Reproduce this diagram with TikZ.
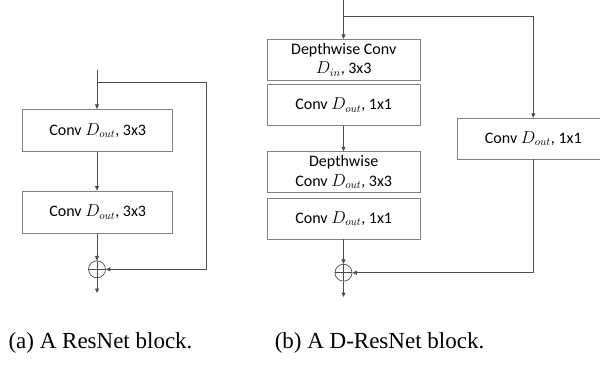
\documentclass[tikz,border=0pt]{standalone}
\usepackage{fontspec}
\setmainfont{Carlito}
\newfontfamily\capfont{Liberation Serif}
\usetikzlibrary{arrows.meta,calc}
\definecolor{boxc}{HTML}{808080}
\definecolor{linec}{HTML}{4D4D4D}
\tikzset{
  blk/.style={draw=boxc, line width=0.8pt, minimum height=40.7pt, inner sep=0pt, align=center, font=\fontsize{16}{19.5}\selectfont},
  blka/.style={blk, minimum width=150pt, minimum height=42.4pt},
  blkb/.style={blk, minimum width=152.7pt},
  conn/.style={draw=linec, line width=0.7pt},
  arr/.style={conn, -{Triangle[length=4.5pt,width=4pt]}},
  addc/.style={circle, draw=linec, line width=0.7pt, minimum size=17pt, inner sep=0pt,
    path picture={\draw[linec, line width=0.6pt] (path picture bounding box.north) -- (path picture bounding box.south) (path picture bounding box.west) -- (path picture bounding box.east);}},
  captxt/.style={font=\capfont\fontsize{23}{27}\selectfont, anchor=base, inner sep=0pt}
}
\begin{document}
\begin{tikzpicture}[x=1pt,y=-1pt]
\useasboundingbox (0,0) rectangle (600,367);
\clip (0,0) rectangle (600,367);
% (a)
\coordinate (ain) at (97,70);
\coordinate (abr) at (97,82.7);
\node[blka] (a1) at (97.7,130.5) {Conv $D_{out}$, 3x3};
\node[blka] (a2) at (97.7,212.2) {Conv $D_{out}$, 3x3};
\node[addc] (aadd) at (97,269.3) {};
\coordinate (aout) at (97,293);
\coordinate (askip) at (206.7,82.7);
\draw[arr] (ain) -- (ain |- a1.north);
\draw[arr] (ain |- a1.south) -- (ain |- a2.north);
\draw[arr] (ain |- a2.south) -- (aadd.north);
\draw[arr] (aadd.south) -- (aout);
\draw[arr] (abr) -- (askip) |- (aadd.east);
% (b)
\coordinate (bin) at (343.5,0);
\coordinate (bbr) at (343.5,16.7);
\coordinate (bskip) at (533.3,16.7);
\node[blkb] (b1) at (343.7,59.7) {Depthwise Conv\\$D_{in}$, 3x3};
\node[blkb] (b2) at (343.7,105.2) {Conv $D_{out}$, 1x1};
\node[blkb] (b3) at (343.7,172) {Depthwise\\Conv $D_{out}$, 3x3};
\node[blkb] (b4) at (343.7,218.7) {Conv $D_{out}$, 1x1};
\node[addc] (badd) at (343.5,272.7) {};
\coordinate (bout) at (343.5,297);
\node[blkb] (br) at (533.3,138.7) {Conv $D_{out}$, 1x1};
\draw[arr] (bin) -- (bin |- b1.north);
\draw[arr] (bin |- b2.south) -- (bin |- b3.north);
\draw[arr] (bin |- b4.south) -- (badd.north);
\draw[arr] (badd.south) -- (bout);
\draw[arr] (bbr) -- (bskip) -- (bskip |- br.north);
\draw[arr] (bskip |- br.south) |- (badd.east);
% captions
\node[captxt] (capa) at (100.5,348) {(a) A ResNet block.};
\node[captxt] (capb) at (379.5,348) {(b) A D-ResNet block.};
\end{tikzpicture}
\end{document}
